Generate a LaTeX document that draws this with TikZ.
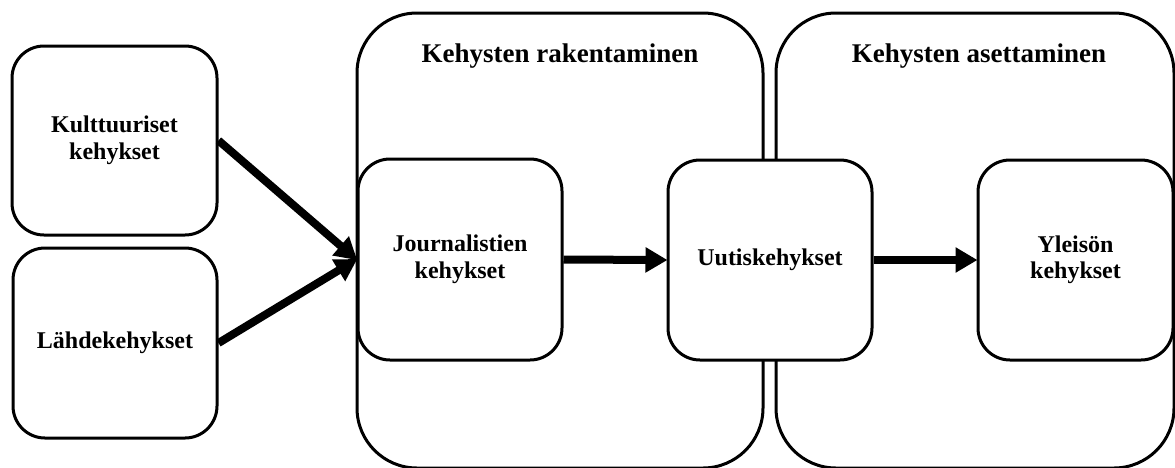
\documentclass[tikz,border=0pt]{standalone}
\usepackage{fontspec}
\setmainfont{Liberation Serif}
\usetikzlibrary{arrows.meta}
\begin{document}
\begin{tikzpicture}[x=1pt,y=-1pt,
  lbl/.style={font=\fontsize{24}{26.5}\selectfont\bfseries, align=center},
  ttl/.style={font=\fontsize{27}{30}\selectfont\bfseries},
  box/.style={draw, line width=3pt, rounded corners=32pt, fill=white, inner sep=0pt},
  bigbox/.style={draw, line width=3pt, rounded corners=60pt, inner sep=0pt},
  arr/.style={line width=8pt, -{Triangle[length=22pt,width=24pt]}, shorten >=-1pt}
]
\useasboundingbox (0,0) rectangle (1175,467);
\node[bigbox, minimum width=406pt, minimum height=455pt] (big1) at (560,240.5) {};
\node[bigbox, minimum width=398pt, minimum height=455pt] (big2) at (975,240.5) {};
\node[ttl, anchor=base] (t1) at (560,62) {Kehysten rakentaminen};
\node[ttl, anchor=base] (t2) at (979,62) {Kehysten asettaminen};
\node[box, lbl, minimum width=205pt, minimum height=189pt] (kult) at (114.5,140.5) {Kulttuuriset\\kehykset};
\node[box, lbl, minimum width=204pt, minimum height=190pt] (lahde) at (115,343) {Lähdekehykset};
\node[box, lbl, minimum width=204pt, minimum height=201pt] (journ) at (460,259.5) {Journalistien\\kehykset};
\node[box, lbl, minimum width=204pt, minimum height=200pt] (uutis) at (770,260) {Uutiskehykset};
\node[box, lbl, minimum width=195pt, minimum height=200pt] (yleis) at (1075.5,260) {Yleisön\\kehykset};
\draw[arr] (kult.east) -- (journ.west);
\draw[arr] (lahde.east) -- (journ.west);
\draw[arr] (journ.east) -- (uutis.west);
\draw[arr] (uutis.east) -- (yleis.west);
\end{tikzpicture}
\end{document}
